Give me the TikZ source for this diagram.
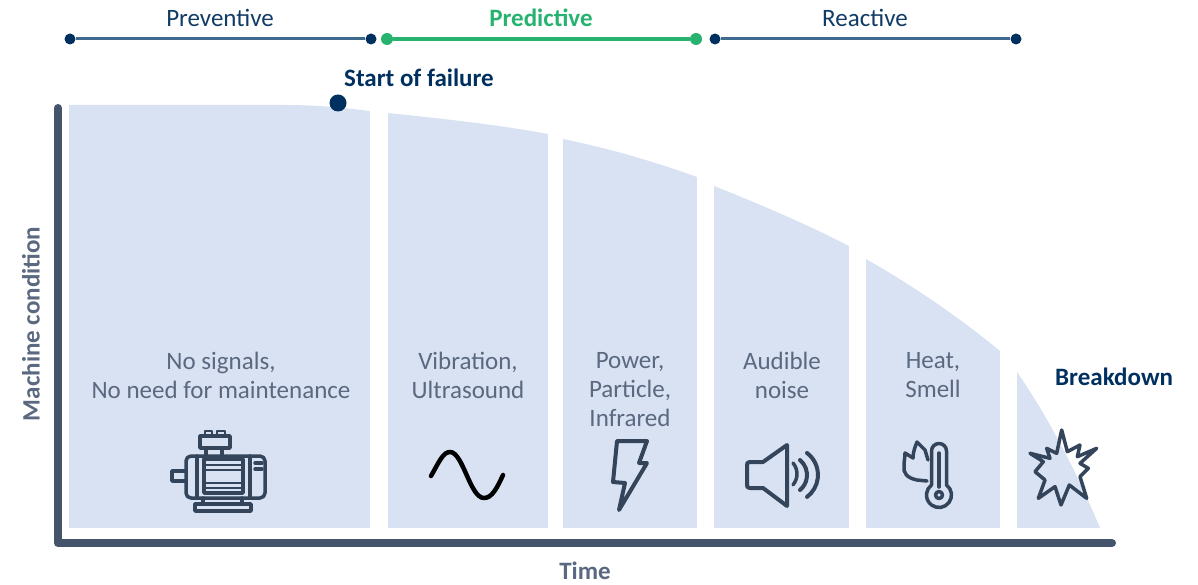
\documentclass[tikz,border=0pt]{standalone}
\usepackage{fontspec}
\setmainfont{Carlito}
\usepackage{tikz}
\usetikzlibrary{arrows}
\definecolor{barblue}{HTML}{D9E2F2}
\definecolor{axisgray}{HTML}{44546A}
\definecolor{navy}{HTML}{00305F}
\definecolor{spanblue}{HTML}{3E6A90}
\definecolor{spangreen}{HTML}{27B36F}
\definecolor{labelgray}{HTML}{5A6880}
\definecolor{icongray}{HTML}{34445A}
\tikzstyle{spanlabel} = [font=\fontsize{25}{27}\selectfont, text=navy!80!labelgray]
\tikzstyle{barlabel} = [font=\fontsize{25}{29}\selectfont, text=labelgray, align=center]
\tikzstyle{headlabel} = [font=\fontsize{25}{27}\selectfont\bfseries, text=navy]
\tikzstyle{axislabel} = [font=\fontsize{25}{27}\selectfont\bfseries, text=labelgray, inner sep=0pt]
\tikzstyle{bluedot} = [circle, fill=navy, inner sep=0pt, minimum size=11pt]
\tikzstyle{greendot} = [circle, fill=spangreen, inner sep=0pt, minimum size=12pt]
\tikzstyle{icon} = [icongray, line width=3.5pt, line join=round, line cap=round]
\begin{document}
\begin{tikzpicture}[x=1pt,y=-1pt]
	\useasboundingbox (0,0) rectangle (1198,585);

	\begin{scope}
	\clip (69,528) -- (69,105) -- (285,105) .. controls (320,105) and (345,108) .. (370,111) -- (388,113) .. controls (445,119) and (500,125) .. (548,134) -- (563,139) .. controls (612,149) and (655,162) .. (697,177) -- (714,186) .. controls (762,205) and (808,225) .. (849,246) -- (866,259) .. controls (915,287) and (960,318) .. (1000,351) -- (1017,372) .. controls (1050,420) and (1078,475) .. (1100,528) -- cycle;
	\fill[barblue] (69,100) rectangle (370,528);
	\fill[barblue] (388,100) rectangle (548,528);
	\fill[barblue] (563,100) rectangle (697,528);
	\fill[barblue] (714,100) rectangle (849,528);
	\fill[barblue] (866,100) rectangle (1000,528);
	\fill[barblue] (1017,100) rectangle (1105,528);
	\end{scope}

	\coordinate (axistop) at (58,108);
	\coordinate (origin) at (58,543);
	\coordinate (axisend) at (1112,543);
	\draw[axisgray, line width=8pt, line cap=round, line join=round] (axistop) -- (origin) -- (axisend);

	\node[bluedot] (prevstart) at (70,39) {};
	\node[bluedot] (prevend) at (371,39) {};
	\node[greendot] (predstart) at (387,39) {};
	\node[greendot] (predend) at (696,39) {};
	\node[bluedot] (reacstart) at (715,39) {};
	\node[bluedot] (reacend) at (1016,39) {};
	\draw[spanblue, line width=3pt] (prevstart) -- (prevend);
	\draw[spangreen, line width=3.5pt] (predstart) -- (predend);
	\draw[spanblue, line width=3pt] (reacstart) -- (reacend);

	\node[spanlabel] (preventive) at (220,18) {Preventive};
	\node[headlabel, text=spangreen] (predictive) at (541,18) {Predictive};
	\node[spanlabel] (reactive) at (865,18) {Reactive};

	\node[circle, fill=navy, inner sep=0pt, minimum size=17pt] (failure) at (338,103) {};
	\node[headlabel, anchor=west, inner sep=0pt] (failurelabel) at (344,78) {Start of failure};
	\node[headlabel, anchor=west, inner sep=0pt] (breakdown) at (1055,377) {Breakdown};

	\node[barlabel] (nosignals) at (221,375) {No signals,\\No need for maintenance};
	\node[barlabel] (vibration) at (468,375) {Vibration,\\Ultrasound};
	\node[barlabel] (power) at (630,390) {Power,\\Particle,\\Infrared};
	\node[barlabel] (audible) at (782,375) {Audible\\noise};
	\node[barlabel] (heat) at (933,375) {Heat,\\Smell};

	\node[axislabel, rotate=90] (condition) at (31,324) {Machine condition};
	\node[axislabel] (time) at (585,571) {Time};

	% motor
	\draw[icon] (185,471) -- (172,471) -- (172,481) -- (185,481);
	\draw[icon, rounded corners=5pt] (186,456) rectangle (265,498);
	\draw[icon] (197,456) -- (197,498) (250,456) -- (250,498);
	\draw[icon] (204,459) rectangle (243,493);
	\draw[icon, line width=2.5pt] (204,465) -- (243,465) (204,470) -- (243,470) (204,483) -- (243,483) (204,488) -- (243,488);
	\draw[icon] (200,436) rectangle (230,448);
	\draw[icon, line width=2.5pt] (205,436) -- (205,431) -- (212,431) -- (212,436) (217,436) -- (217,431) -- (225,431) -- (225,436);
	\draw[icon] (206,448) -- (206,456) (222,448) -- (222,456);
	\draw[icon] (255,463) -- (262,463) (255,469) -- (262,469);
	\draw[icon] (203,498) -- (203,504) (242,498) -- (242,504);
	\draw[icon] (195,504) rectangle (251,511);

	% sine
	\draw[black, line width=4.5pt, line cap=round] (431,476) .. controls (439,462) and (443,452) .. (450,452) .. controls (463,452) and (470,498) .. (484,498) .. controls (492,498) and (497,488) .. (503,475);

	% bolt
	\draw[icon, line width=4pt] (617,441) -- (647,441) -- (639,463) -- (647,463) -- (619,510) -- (625,483) -- (613,482) -- cycle;

	% speaker
	\draw[icon, line width=4pt] (763,462) -- (750,462) .. controls (747,462) and (747,463) .. (747,466) -- (747,484) .. controls (747,487) and (747,488) .. (750,488) -- (763,488) -- (787,506) -- (787,445) -- cycle;
	\draw[icon] (793,463) arc (-40:40:17);
	\draw[icon, line width=4pt] (800,460) arc (-50:50:19.6);
	\draw[icon, line width=4pt] (807,453) arc (-53:53:27.5);

	% thermometer and flame
	\draw[icon] (931.5,485) -- (931.5,451) arc (180:360:7.5) -- (946.5,485) arc (-53:233:12.5);
	\draw[icon] (939,453) -- (939,487);
	\draw[icon] (939,495) circle (3.5);
	\draw[icon] (927,481) -- (917,480) .. controls (907,478) and (903,473) .. (904,466) .. controls (904,461) and (905,457) .. (905,453) -- (913,458) .. controls (913,452) and (915,447) .. (917,442) -- (925,450) -- (928,460);

	% explosion
	\begin{scope}[shift={(1025,425)}, scale=0.3333]
	\draw[icon, line width=3.5pt] (110,15) -- (127,80) -- (165,60) -- (157,95) -- (215,70) -- (165,115) -- (190,130) -- (165,155) -- (185,220) -- (133,180) -- (108,240) -- (90,185) -- (40,220) -- (60,165) -- (30,140) -- (55,110) -- (15,85) -- (75,100) -- (65,70) -- (95,85) -- cycle;
	\end{scope}
\end{tikzpicture}
\end{document}
